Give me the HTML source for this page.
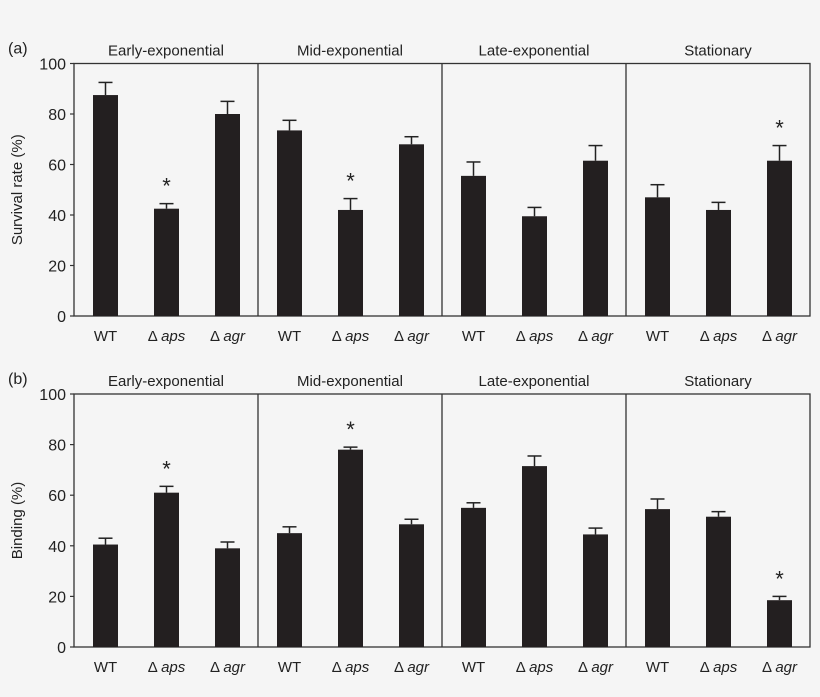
<!DOCTYPE html>
<html><head><meta charset="utf-8"><style>
html,body{margin:0;padding:0;background:#f5f5f5;}
svg{display:block;font-family:"Liberation Sans",Arial,sans-serif;}
</style></head><body>
<svg id="chart" width="820" height="697" viewBox="0 0 820 697">
<rect width="820" height="697" fill="#f5f5f5"/>
</svg>
<script>
const phases = ["Early-exponential","Mid-exponential","Late-exponential","Stationary"];
const strains = ["WT","aps","agr"];
const survivalValues = [87.5,42.5,80, 73.5,42,68, 55.5,39.5,61.5, 47,42,61.5];
const survivalErrors = [5,2,5, 4,4.5,3, 5.5,3.5,6, 5,3,6];
const survivalStars = [1,4,11];
const bindingValues = [40.5,61,39, 45,78,48.5, 55,71.5,44.5, 54.5,51.5,18.5];
const bindingErrors = [2.5,2.5,2.5, 2.5,1,2, 2,4,2.5, 4,2,1.5];
const bindingStars = [1,4,11];
const yTicks = [0,20,40,60,80,100];

const svg = document.getElementById('chart');
const NS = 'http://www.w3.org/2000/svg';
function mk(tag, attrs, parent){const e=document.createElementNS(NS,tag);for(const k in attrs)e.setAttribute(k,attrs[k]);parent.appendChild(e);return e;}

function panel(label, ylabel, top, bottom, values, errors, stars, key){
  const g = mk('g',{},svg);
  
  
  const left=74, pw=184, right=left+4*pw;
  const y = v => bottom - (v/100)*(bottom-top);
  const bx = i => left + Math.floor(i/3)*pw + 19 + (i%3)*61;
  const fr = mk('rect',{x:left,y:top,width:right-left,height:bottom-top,fill:'none',stroke:'#333','stroke-width':1.3},g);
  
  
  for(let p=1;p<4;p++){
    const l = mk('line',{x1:left+p*pw,x2:left+p*pw,y1:top,y2:bottom,stroke:'#333','stroke-width':1.3},g);
    
    
  }
  phases.forEach((ph,p)=>{
    const t = mk('text',{x:left+p*pw+pw/2,y:top-8,'text-anchor':'middle','font-size':15,fill:'#222'},g);
    t.textContent=ph;
    
    
  });
  yTicks.forEach(v=>{
    const tl = mk('line',{x1:left-4,x2:left,y1:y(v),y2:y(v),stroke:'#333','stroke-width':1.2},g);
    
    
    const t = mk('text',{x:left-8,y:y(v)+6,'text-anchor':'end','font-size':16,fill:'#222'},g);
    t.textContent=v;
    
    
  });
  const yl = mk('text',{x:0,y:0,'text-anchor':'middle','font-size':15,fill:'#222',transform:`translate(22,${(top+bottom)/2}) rotate(-90)`},g);
  yl.textContent=ylabel;
  
  
  const pl = mk('text',{x:8,y:top-10,'font-size':16,fill:'#222'},g);
  pl.textContent=label;
  
  
  values.forEach((v,i)=>{
    const x=bx(i), w=25, c=x+w/2;
    const e = errors[i];
    const el = mk('line',{x1:c,x2:c,y1:y(v),y2:y(v+e),stroke:'#222','stroke-width':1.5},g);
    
    
    const ec = mk('line',{x1:c-7,x2:c+7,y1:y(v+e),y2:y(v+e),stroke:'#222','stroke-width':1.5},g);
    
    
    const r = mk('rect',{x:x,y:y(v),width:w,height:bottom-y(v),fill:'#231f20'},g);
    
    
    const xt = mk('text',{x:c,y:bottom+25,'text-anchor':'middle','font-size':15,fill:'#222'},g);
    if(i%3===0){xt.textContent='WT';}
    else{
      const d=mk('tspan',{},xt);d.textContent='\u0394 ';
      const s=mk('tspan',{'font-style':'italic'},xt);s.textContent=strains[i%3];
    }
    
    
    if(stars.includes(i)){
      const st = mk('text',{x:c,y:y(v+e)-10,'text-anchor':'middle','font-size':22,fill:'#222'},g);
      st.textContent='*';
      
      
    }
  });
}
panel('(a)','Survival rate (%)',63.5,316,survivalValues,survivalErrors,survivalStars,'survival');
panel('(b)','Binding (%)',394,647,bindingValues,bindingErrors,bindingStars,'binding');
</script>
</body></html>
